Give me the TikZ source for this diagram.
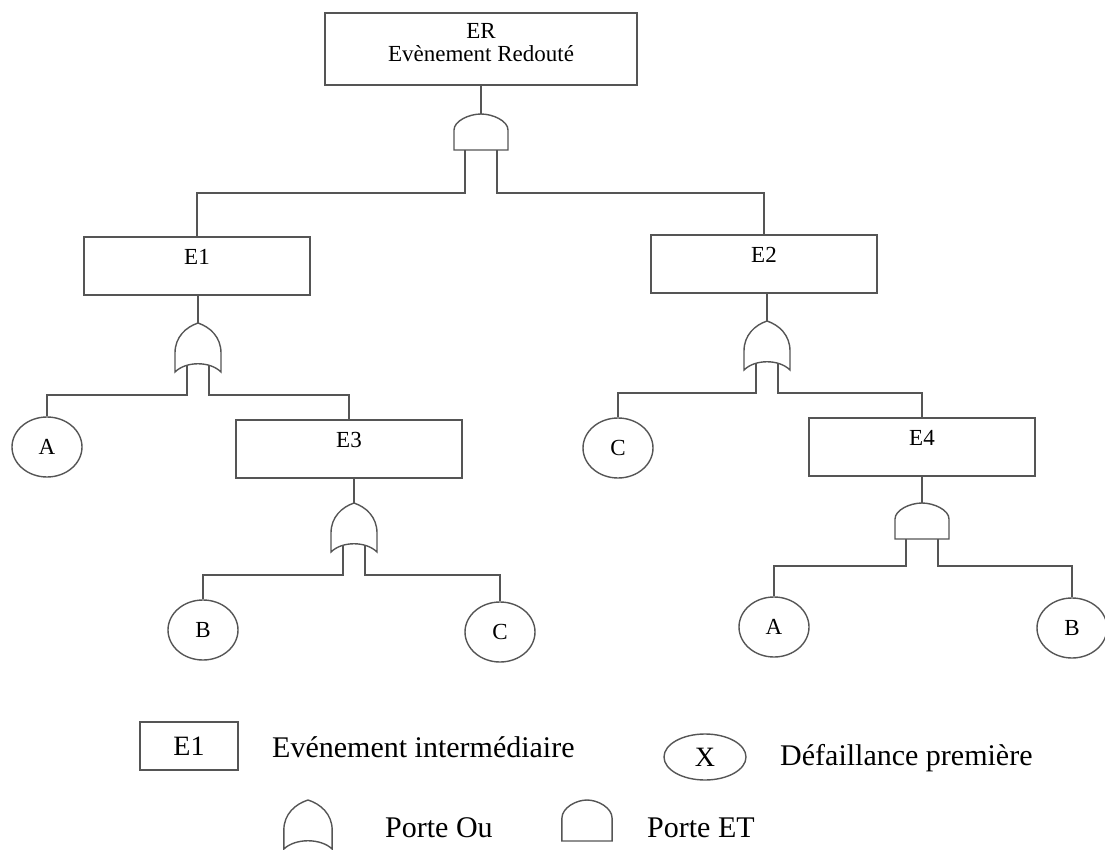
\documentclass[tikz,border=0pt]{standalone}
\usepackage{fontspec}
\setmainfont{Liberation Serif}
\usetikzlibrary{shapes.geometric}
\definecolor{traitgris}{RGB}{85,85,85}

\tikzset{
  lin/.style={draw=traitgris,line width=1.4pt},
  evt/.style={lin,rectangle,inner xsep=0pt,inner ysep=0pt,minimum width=226pt,
    text height=27.5pt,text depth=30.5pt,font=\fontsize{23}{23}\selectfont},
  prim/.style={lin,ellipse,inner sep=0pt,minimum width=70pt,minimum height=60pt,
    font=\fontsize{23}{23}\selectfont},
  leg/.style={inner sep=0pt,anchor=west,font=\fontsize{30}{32}\selectfont},
  andgate/.pic={
    \draw[lin] (-27,36) -- (-27,16) .. controls (-27,7) and (-12,0) .. (0,0)
      .. controls (12,0) and (27,7) .. (27,16) -- (27,36) -- cycle;
    \coordinate (-in) at (0,0);
    \coordinate (-l) at (-16,36);
    \coordinate (-r) at (16,36);
  },
  orgate/.pic={
    \draw[lin] (0,0) .. controls (12,4) and (23,14) .. (23,30) -- (23,49)
      .. controls (12,38) and (-12,38) .. (-23,49) -- (-23,30)
      .. controls (-23,14) and (-12,4) .. (0,0) -- cycle;
    \coordinate (-in) at (0,0);
    \coordinate (-l) at (-11,42);
    \coordinate (-r) at (11,42);
  }
}

\begin{document}
\begin{tikzpicture}[x=1pt,y=-1pt]
\useasboundingbox (0,0) rectangle (1105,850);

% evenement redoute
\node[lin,rectangle,minimum width=312pt,inner ysep=0pt,text height=26pt,text depth=46pt,
  font=\fontsize{23}{23}\selectfont] (ER) at (481,49)
  {\begin{tabular}[t]{@{}c@{}}ER\\Evènement Redouté\end{tabular}};
\pic (g0) at (481,114) {andgate};

% branche gauche
\node[evt] (E1) at (197,266) {E1};
\pic (g1) at (198,323) {orgate};
\node[prim] (A1) at (47,447) {A};
\node[evt] (E3) at (349,449) {E3};
\pic (g3) at (354,503) {orgate};
\node[prim] (B1) at (203,630) {B};
\node[prim] (C1) at (500,632) {C};

% branche droite
\node[evt] (E2) at (764,264) {E2};
\pic (g2) at (767,321) {orgate};
\node[prim] (C2) at (618,448) {C};
\node[evt] (E4) at (922,447) {E4};
\pic (g4) at (922,503) {andgate};
\node[prim] (A2) at (774,627) {A};
\node[prim] (B2) at (1072,628) {B};

% liaisons
\draw[lin] (ER) -- (g0-in);
\draw[lin] (g0-l) -- ++(0,43) -| (E1);
\draw[lin] (g0-r) -- ++(0,43) -| (E2);
\draw[lin] (E1.south -| g1-in) -- (g1-in);
\draw[lin] (g1-l) -- ++(0,30) -| (A1);
\draw[lin] (g1-r) -- ++(0,30) -| (E3);
\draw[lin] (E3.south -| g3-in) -- (g3-in);
\draw[lin] (g3-l) -- ++(0,30) -| (B1);
\draw[lin] (g3-r) -- ++(0,30) -| (C1);
\draw[lin] (E2.south -| g2-in) -- (g2-in);
\draw[lin] (g2-l) -- ++(0,30) -| (C2);
\draw[lin] (g2-r) -- ++(0,30) -| (E4);
\draw[lin] (E4.south -| g4-in) -- (g4-in);
\draw[lin] (g4-l) -- ++(0,27) -| (A2);
\draw[lin] (g4-r) -- ++(0,27) -| (B2);

% legende
\node[lin,rectangle,minimum width=98pt,minimum height=48pt,
  font=\fontsize{28}{30}\selectfont] (legE) at (189,746) {E1};
\node[leg] (legEtxt) at (272,747) {Evénement intermédiaire};
\node[lin,ellipse,inner sep=0pt,minimum width=82pt,minimum height=46pt,
  font=\fontsize{28}{30}\selectfont] (legX) at (705,757) {X};
\node[leg] (legXtxt) at (780,758) {Défaillance première};
\pic[xscale=1.05] (legOu) at (308,800) {orgate};
\node[leg] (legOutxt) at (385,828) {Porte Ou};
\pic[xscale=0.93,yscale=1.14] (legEt) at (587,800) {andgate};
\node[leg] (legEttxt) at (647,828) {Porte ET};
\end{tikzpicture}
\end{document}
